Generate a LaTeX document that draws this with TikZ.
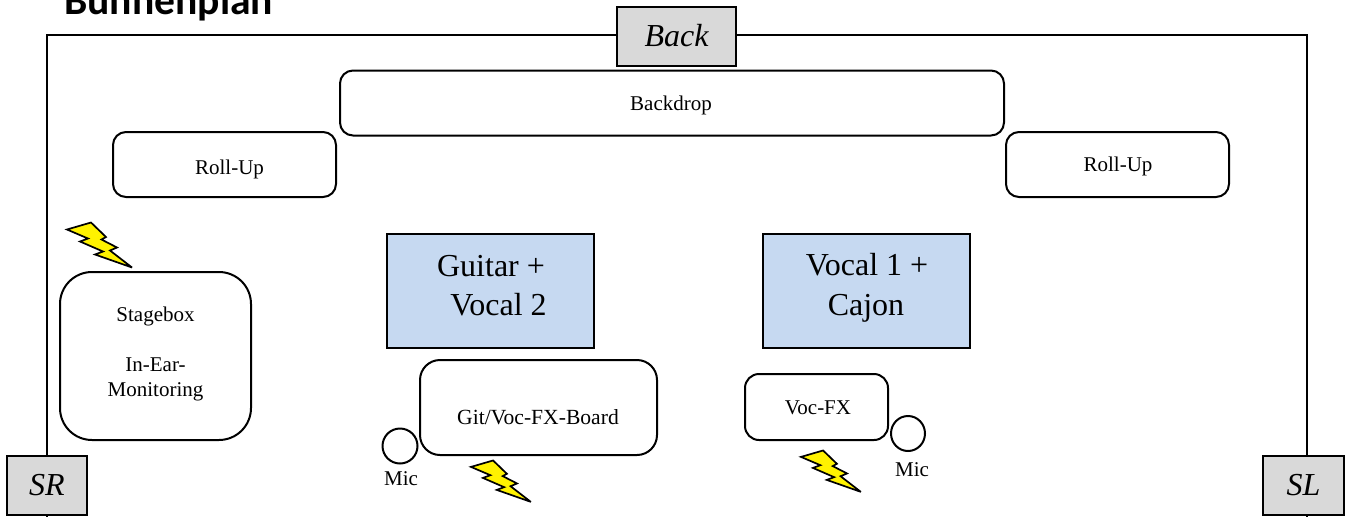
\documentclass[tikz,border=0pt]{standalone}
\usepackage{fontspec}
\setmainfont{Liberation Serif}
\newfontfamily\titlefont{Carlito}
\usetikzlibrary{shapes.geometric}
\definecolor{bluefill}{HTML}{C6D9F1}
\definecolor{tagfill}{HTML}{D9D9D9}
\tikzset{
  x=1pt,y=-1pt,
  shapebase/.style={draw=black,line width=2pt,inner sep=0pt,outer sep=0pt},
  rbox/.style={shapebase,rectangle,rounded corners=#1},
  rbox/.default=13pt,
  bluebox/.style={shapebase,rectangle,line width=2pt,fill=bluefill},
  tag/.style={shapebase,rectangle,fill=tagfill,font=\fontsize{32}{32}\selectfont\itshape},
  label/.style={inner sep=0pt,font=\fontsize{21}{25}\selectfont,align=center},
  biglabel/.style={inner sep=0pt,font=\fontsize{32}{38}\selectfont,anchor=base},
  micring/.style={draw=black,line width=2pt,ellipse,inner sep=0pt,outer sep=0pt},
  frameline/.style={draw=black,line width=2.4pt},
  bolt/.pic={
    \draw[draw=black,fill=yellow,line width=1.7pt,miter limit=6]
      (0,7.5) -- (24,0.5) -- (39,15) -- (34.5,17.5) -- (50,25.5) -- (43,28.5) -- (65,45.5)
      -- (28,32.5) -- (36,29.5) -- (13,19.5) -- (21,16.5) -- cycle;
  }
}
\begin{document}
\begin{tikzpicture}
\useasboundingbox (0,0) rectangle (1346,517);
% title
\node[anchor=base west,inner sep=0pt,font=\titlefont\bfseries\fontsize{41.6}{41.6}\selectfont] (title) at (64,14) {Bühnenplan};
% tags
\node[tag,minimum width=119pt,minimum height=59pt] (Back) at (676.5,36) {Back};
\node[tag,minimum width=80pt,minimum height=59pt] (SR) at (47,485) {SR};
\node[tag,minimum width=81pt,minimum height=59pt] (SL) at (1303.5,485) {SL};
% stage outline
\coordinate (corTL) at (47,35);
\coordinate (corTR) at (1307,35);
\coordinate (slTop) at (1307,455);
\coordinate (srEnd) at (47,517);
\coordinate (slBot) at (1307,514.5);
\coordinate (slEnd) at (1307,517);
\coordinate (backL) at (617,35);
\coordinate (backR) at (736,35);
\draw[frameline] (SR.north) -- (corTL) -- (backL);
\draw[frameline] (backR) -- (corTR) -- (slTop);
\draw[frameline] (SR.south) -- (srEnd);
\draw[frameline] (slBot) -- (slEnd);
% boxes
\node[rbox=13pt,minimum width=664pt,minimum height=65pt] (backdrop) at (672,103) {};
\node[rbox=13pt,minimum width=223pt,minimum height=65pt] (rollL) at (224.5,164.5) {};
\node[rbox=13pt,minimum width=223pt,minimum height=65pt] (rollR) at (1117.5,164.5) {};
\node[rbox=32pt,minimum width=191pt,minimum height=168pt] (stage) at (155.5,356) {};
\node[bluebox,minimum width=207pt,minimum height=114pt] (guitar) at (490.5,291) {};
\node[bluebox,minimum width=207pt,minimum height=114pt] (vocal) at (866.5,291) {};
\node[rbox=20pt,minimum width=237pt,minimum height=95pt] (gitfx) at (538.5,407.5) {};
\node[rbox=14pt,minimum width=143pt,minimum height=66pt] (vocfx) at (816.5,407) {};
\node[micring,minimum width=35pt,minimum height=35pt] (micA) at (400,446) {};
\node[micring,minimum width=34pt,minimum height=35pt] (micB) at (908,433.5) {};
% labels
\node[label] (tBackdrop) at (671,105) {Backdrop};
\node[label] (tRollL) at (229.5,169) {Roll-Up};
\node[label] (tRollR) at (1118,166) {Roll-Up};
\node[label] (tStage) at (155.5,353.5) {Stagebox\\[25pt]In-Ear-\\Monitoring};
\node[biglabel] (tGuitar) at (491,276) {Guitar +};
\node[biglabel] (tVocalB) at (498.5,315) {Vocal 2};
\node[biglabel] (tVocal) at (867,275) {Vocal 1 +};
\node[biglabel] (tCajon) at (866,315) {Cajon};
\node[label,font=\fontsize{21.6}{25}\selectfont] (tGit) at (538,417) {Git/Voc-FX-Board};
\node[label] (tVoc) at (818,408) {Voc-FX};
\node[label] (tMicA) at (401,479) {Mic};
\node[label] (tMicB) at (912,470) {Mic};
% bolts
\pic at (67,222) {bolt};
\pic[scale=0.92] at (471,460) {bolt};
\pic[scale=0.92] at (801,450) {bolt};
\end{tikzpicture}
\end{document}
